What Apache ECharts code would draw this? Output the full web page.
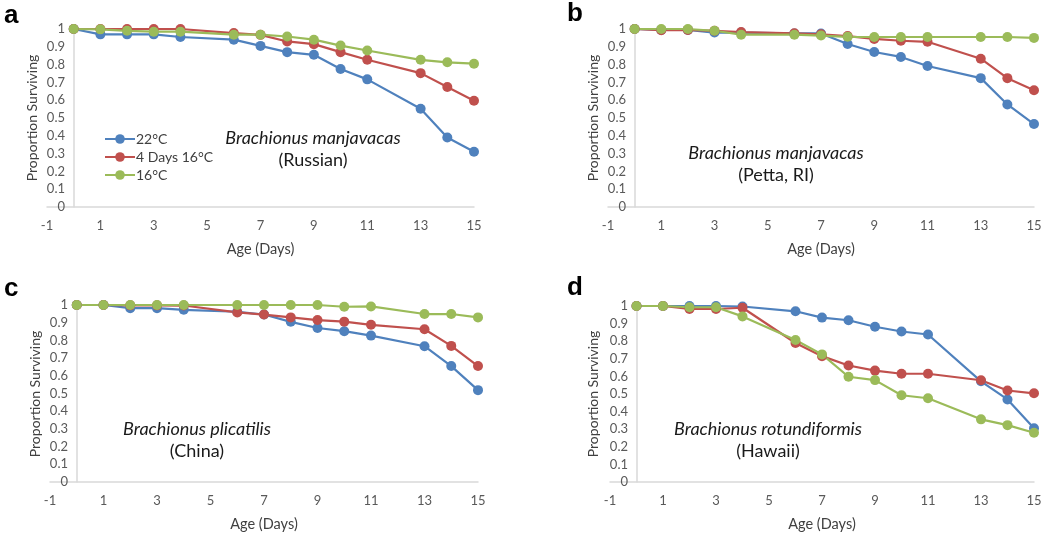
<!DOCTYPE html>
<html>
<head>
<meta charset="utf-8">
<script src="https://cdn.jsdelivr.net/npm/echarts@6/dist/echarts.min.js"></script>
<style>html,body{margin:0;padding:0;background:#fff;}#chart{width:1050px;height:533px;}</style>
</head>
<body>
<div id="chart"></div>
<script>
// ---- data ----
var days = [0, 1, 2, 3, 4, 6, 7, 8, 9, 10, 11, 13, 14, 15];
var seriesNames = ['22°C', '4 Days 16°C', '16°C'];

// Panel a: Brachionus manjavacas (Russian)
var a22 = [1, 0.97, 0.97, 0.97, 0.955, 0.94, 0.905, 0.87, 0.855, 0.775, 0.717, 0.552, 0.39, 0.31];
var a4d = [1, 1, 1, 1, 1, 0.977, 0.967, 0.93, 0.915, 0.87, 0.827, 0.752, 0.674, 0.597];
var a16 = [1, 0.998, 0.99, 0.985, 0.985, 0.968, 0.968, 0.958, 0.94, 0.907, 0.879, 0.827, 0.813, 0.805];

// Panel b: Brachionus manjavacas (Petta, RI)
var b22 = [1, 0.995, 0.995, 0.98, 0.98, 0.975, 0.975, 0.916, 0.871, 0.843, 0.792, 0.724, 0.576, 0.466];
var b4d = [1, 0.993, 0.995, 0.99, 0.983, 0.976, 0.97, 0.96, 0.944, 0.934, 0.928, 0.833, 0.724, 0.656];
var b16 = [1, 1, 1, 0.99, 0.968, 0.968, 0.963, 0.956, 0.955, 0.955, 0.955, 0.955, 0.955, 0.95];

// Panel c: Brachionus plicatilis (China)
var c22 = [1, 1, 0.982, 0.982, 0.973, 0.962, 0.946, 0.905, 0.87, 0.852, 0.827, 0.767, 0.655, 0.519];
var c4d = [1, 1, 0.998, 0.998, 0.997, 0.958, 0.946, 0.93, 0.915, 0.906, 0.888, 0.863, 0.769, 0.655];
var c16 = [1, 1, 1, 1, 1, 1, 1, 1, 1, 0.99, 0.992, 0.949, 0.949, 0.93];

// Panel d: Brachionus rotundiformis (Hawaii)
var d22 = [1, 1, 1, 1, 0.997, 0.97, 0.934, 0.919, 0.882, 0.855, 0.838, 0.572, 0.469, 0.305];
var d4d = [1, 1, 0.983, 0.983, 0.99, 0.79, 0.715, 0.662, 0.633, 0.615, 0.615, 0.578, 0.52, 0.504];
var d16 = [1, 1, 0.993, 0.993, 0.941, 0.807, 0.725, 0.598, 0.579, 0.493, 0.476, 0.356, 0.323, 0.28];

var panelLetters = ['a', 'b', 'c', 'd'];
var speciesNames = ['Brachionus manjavacas', 'Brachionus manjavacas', 'Brachionus plicatilis', 'Brachionus rotundiformis'];
var locations = ['(Russian)', '(Petta, RI)', '(China)', '(Hawaii)'];
var xTitle = 'Age (Days)';
var yTitle = 'Proportion Surviving';

// ---- layout / style ----
var panelData = [[a22, a4d, a16], [b22, b4d, b16], [c22, c4d, c16], [d22, d4d, d16]];
var colors = ['#4F81BD', '#C0504D', '#9BBB59'];
var grids = [
  {left: 47, top: 29, width: 427, height: 178},
  {left: 608, top: 29, width: 426, height: 178},
  {left: 50, top: 305, width: 428, height: 178},
  {left: 610, top: 306, width: 424, height: 177}
];
var letterPos = [[4, 3], [567, 1], [4, 276], [567, 275]];
var notePos = [[313, 138], [776, 153], [197, 429], [768, 429]];
var yTitlePos = [[32, 118], [593, 118], [35, 394], [593, 394]];

var font = 'Lato, Carlito, "Open Sans", sans-serif';
var xAxes = [], yAxes = [], series = [], graphics = [];

grids.forEach(function (g, i) {
  xAxes.push({
    type: 'value', gridIndex: i, min: -1, max: 15, interval: 2,
    axisLine: {show: true, lineStyle: {color: '#d9d9d9', width: 1.5}},
    axisTick: {show: false},
    splitLine: {show: false},
    axisLabel: {color: '#595959', fontSize: 13, fontFamily: font, margin: 12},
    name: xTitle, nameLocation: 'middle', nameGap: 35, nameMoveOverlap: false,
    nameTextStyle: {color: '#404040', fontSize: 14.5, fontFamily: font}
  });
  yAxes.push({
    type: 'value', gridIndex: i, min: 0, max: 1, interval: 0.1,
    axisLine: {show: true, onZero: true, lineStyle: {color: '#d9d9d9', width: 1.5}},
    axisTick: {show: false},
    splitLine: {show: false},
    axisLabel: {color: '#595959', fontSize: 13, fontFamily: font, margin: -18}
  });
  panelData[i].forEach(function (vals, k) {
    series.push({
      type: 'line', name: seriesNames[k], xAxisIndex: i, yAxisIndex: i,
      data: days.map(function (d, j) { return [d, vals[j]]; }),
      symbol: 'circle', symbolSize: 10, clip: false,
      itemStyle: {color: colors[k]},
      lineStyle: {color: colors[k], width: 2.2},
      emphasis: {disabled: true},
      animation: false
    });
  });
  graphics.push({
    type: 'text', left: letterPos[i][0], top: letterPos[i][1],
    style: {text: panelLetters[i], font: 'bold 26px "Liberation Sans", Arial, sans-serif', fill: '#000'}
  });
  graphics.push({
    type: 'text', x: yTitlePos[i][0], y: yTitlePos[i][1], rotation: Math.PI / 2,
    style: {text: yTitle, font: '14px ' + font, fill: '#404040', textAlign: 'center', textVerticalAlign: 'middle'}
  });
  graphics.push({
    type: 'text', x: notePos[i][0], y: notePos[i][1],
    style: {text: speciesNames[i], font: 'italic 18px ' + font, fill: '#1a1a1a', textAlign: 'center', textVerticalAlign: 'middle'}
  });
  graphics.push({
    type: 'text', x: notePos[i][0], y: notePos[i][1] + 22,
    style: {text: locations[i], font: '18px ' + font, fill: '#1a1a1a', textAlign: 'center', textVerticalAlign: 'middle'}
  });
});

var chart = echarts.init(document.getElementById('chart'), null, {renderer: 'canvas'});
chart.setOption({
  backgroundColor: '#ffffff',
  animation: false,
  grid: grids,
  xAxis: xAxes,
  yAxis: yAxes,
  series: series,
  legend: {
    data: seriesNames, orient: 'vertical', left: 99, top: 127,
    itemWidth: 30, itemHeight: 12, itemGap: 4,
    textStyle: {color: '#404040', fontSize: 14, fontFamily: font, padding: [0, 0, 0, -4]},
    selectedMode: false
  },
  graphic: graphics
});
</script>
</body>
</html>
